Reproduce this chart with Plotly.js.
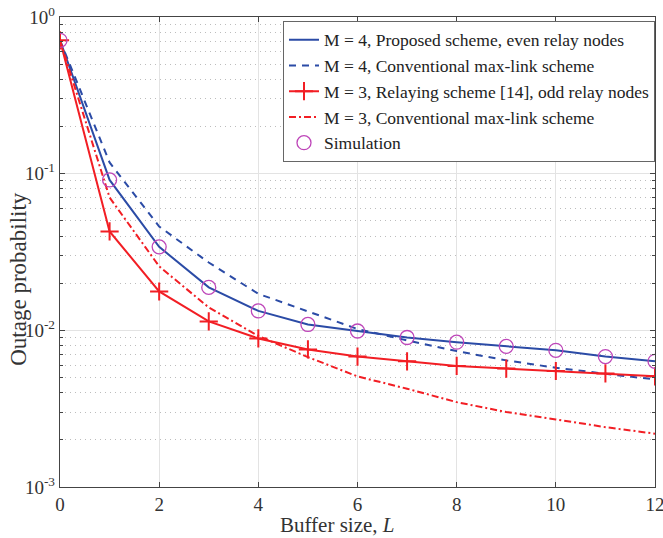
<!DOCTYPE html>
<html>
<head>
<meta charset="utf-8">
<script src="https://cdn.plot.ly/plotly-3.0.1.min.js"></script>
<style>html,body{margin:0;padding:0;background:#fff;}#chart{width:663px;height:538px;}</style>
</head>
<body>
<div id="chart"></div>
<script>
// Buffer size L
const bufferSize = [0,1,2,3,4,5,6,7,8,9,10,11,12];
// M = 4, proposed scheme (even relay nodes)
const m4Proposed = [0.71,0.0912,0.0341,0.0188,0.0133,0.0109,0.0099,0.0090,0.0084,0.0079,0.00745,0.0068,0.00634];
// M = 4, conventional max-link
const m4MaxLink = [0.71,0.118,0.046,0.0271,0.0171,0.0132,0.0102,0.00863,0.00737,0.00643,0.00577,0.00528,0.00486];
// M = 3, relaying scheme [14] (odd relay nodes)
const m3Relaying = [0.71,0.0428,0.0177,0.0114,0.00888,0.00755,0.0068,0.00634,0.00593,0.0057,0.0055,0.00531,0.00509];
// M = 3, conventional max-link
const m3MaxLink = [0.71,0.0705,0.0256,0.0140,0.0092,0.00675,0.00508,0.00424,0.00348,0.00301,0.0027,0.00241,0.00219];
// Simulation points
const simulation = [0.71,0.0912,0.0341,0.0188,0.0133,0.0109,0.0099,0.0090,0.0084,0.0079,0.00745,0.0068,0.00634];

const seriesNames = [
  'M = 4, Proposed scheme, even relay nodes',
  'M = 4, Conventional max-link scheme',
  'M = 3, Relaying scheme [14], odd relay nodes',
  'M = 3, Conventional max-link scheme',
  'Simulation'
];
const xTitle = 'Buffer size, <i>L</i>';
const yTitle = 'Outage probability';
const xTicks = [0,2,4,6,8,10,12];
const yTickVals = [1e-3,1e-2,1e-1,1];
const yTickText = ['10<sup>-3</sup>','10<sup>-2</sup>','10<sup>-1</sup>','10<sup>0</sup>'];

const blue = 'rgb(43,75,166)';
const red = 'rgb(242,30,36)';
const mag = 'rgb(190,70,185)';

const minorVals = [];
for (let k = -3; k < 0; k++) for (let m = 2; m <= 9; m++) minorVals.push(m * Math.pow(10, k));

const traces = [
  {x: bufferSize, y: m4Proposed, name: seriesNames[0], mode: 'lines', line: {color: blue, width: 2}},
  {x: bufferSize, y: m4MaxLink, name: seriesNames[1], mode: 'lines', line: {color: blue, width: 2, dash: '7px,6px'}},
  {x: bufferSize, y: m3Relaying, name: seriesNames[2], mode: 'lines+markers', line: {color: red, width: 2},
   marker: {symbol: 'cross-thin-open', size: 13, line: {color: red, width: 2}}},
  {x: bufferSize, y: m3MaxLink, name: seriesNames[3], mode: 'lines', line: {color: red, width: 2, dash: '7px,3px,2px,3px'}},
  {x: bufferSize, y: simulation, name: seriesNames[4], mode: 'markers',
   marker: {symbol: 'circle-open', size: 14, color: mag, line: {color: mag, width: 1.3}}}
];

const fam = 'Liberation Serif';
const layout = {
  width: 663, height: 538,
  margin: {l: 60, r: 8, t: 17, b: 51},
  paper_bgcolor: '#fff', plot_bgcolor: '#fff',
  font: {family: fam, size: 16, color: '#333'},
  showlegend: true,
  legend: {
    x: 1, xanchor: 'right', y: 0.992, yanchor: 'top',
    bgcolor: '#fff', bordercolor: '#666', borderwidth: 1,
    font: {family: fam, size: 17.5, color: '#222'},
    tracegroupgap: 0
  },
  xaxis: {
    range: [0, 12], tickvals: xTicks, ticks: 'inside', ticklen: 5, tickcolor: '#444',
    showline: true, linecolor: '#444', linewidth: 1.2, mirror: 'ticks',
    showgrid: true, gridcolor: '#e3e3e3', gridwidth: 1, zeroline: false,
    ticklabeloverflow: 'allow',
    tickfont: {family: fam, size: 19, color: '#333'}
  },
  yaxis: {
    type: 'log', range: [-3, 0], tickvals: yTickVals, ticktext: yTickText,
    ticks: 'inside', ticklen: 5, tickcolor: '#444',
    showline: true, linecolor: '#444', linewidth: 1.2, mirror: 'ticks',
    showgrid: true, gridcolor: '#e3e3e3', gridwidth: 1, zeroline: false,
    tickfont: {family: fam, size: 19, color: '#333'},
    minor: {tickvals: minorVals, ticks: 'inside', ticklen: 3, tickcolor: '#444',
            showgrid: true, gridcolor: '#bdbdbd', griddash: '1px,4px', gridwidth: 1}
  },
  annotations: [
    {text: yTitle, textangle: -90, xref: 'paper', yref: 'paper',
     x: -0.069, y: 0.443, xanchor: 'center', yanchor: 'middle', showarrow: false,
     font: {family: fam, size: 23, color: '#333'}},
    {text: xTitle, xref: 'paper', yref: 'paper',
     x: 0.467, y: -0.081, xanchor: 'center', yanchor: 'middle', showarrow: false,
     font: {family: fam, size: 21, color: '#333'}}
  ]
};

Plotly.newPlot('chart', traces, layout, {displayModeBar: false, staticPlot: true});
</script>
</body>
</html>
